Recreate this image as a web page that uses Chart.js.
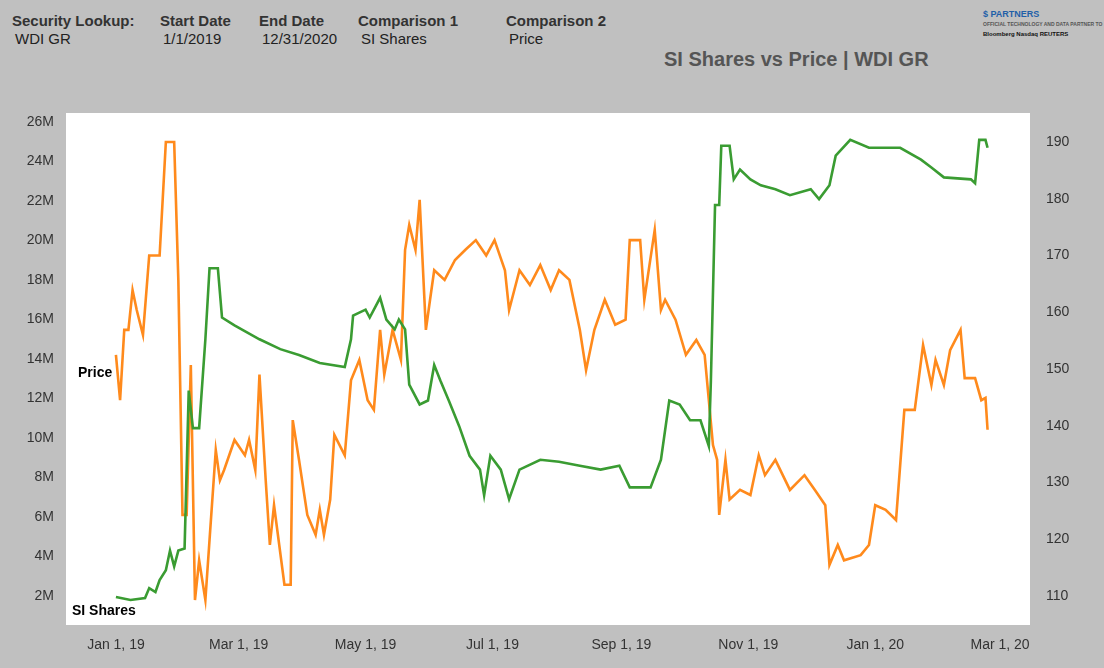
<!DOCTYPE html>
<html><head><meta charset="utf-8">
<script src="https://cdn.jsdelivr.net/npm/chart.js@4/dist/chart.umd.min.js"></script>
<style>
body{margin:0;background:#c0c0c0;font-family:"Liberation Sans",Arial,sans-serif;}
#wrap{position:relative;width:1104px;height:668px;overflow:hidden;}
.h{position:absolute;font-size:15px;color:#222;}
.b{font-weight:bold;color:#333;}
canvas{position:absolute;left:0;top:0;}
</style></head><body>
<div id="wrap">
<div class="h b" style="left:12px;top:12px">Security Lookup:</div>
<div class="h" style="left:15px;top:30px">WDI GR</div>
<div class="h b" style="left:160px;top:12px">Start Date</div>
<div class="h" style="left:163px;top:30px">1/1/2019</div>
<div class="h b" style="left:259px;top:12px">End Date</div>
<div class="h" style="left:262px;top:30px">12/31/2020</div>
<div class="h b" style="left:358px;top:12px">Comparison 1</div>
<div class="h" style="left:361px;top:30px">SI Shares</div>
<div class="h b" style="left:506px;top:12px">Comparison 2</div>
<div class="h" style="left:509px;top:30px">Price</div>
<div class="h" style="left:664px;top:48px;font-size:20px;font-weight:bold;color:#555">SI Shares vs Price | WDI GR</div>
<div class="h" style="left:983px;top:10px;font-size:9px;font-weight:bold;color:#1f5fa8;line-height:9px">$ PARTNERS<br><span style="font-size:5px;color:#555">OFFICIAL TECHNOLOGY AND DATA PARTNER TO</span><br><span style="font-size:6px;color:#111">Bloomberg Nasdaq REUTERS</span></div>
<canvas id="c" width="1104" height="668"></canvas>
<div class="h" style="left:78px;top:364px;font-weight:bold;color:#000;font-size:14px">Price</div>
<div class="h" style="left:72px;top:602px;font-weight:bold;color:#000;font-size:14px">SI Shares</div>
</div>
<script>
const tickDays=[0,59,120,181,243,304,365,425];
const tickLabels=["Jan 1, 19","Mar 1, 19","May 1, 19","Jul 1, 19","Sep 1, 19","Nov 1, 19","Jan 1, 20","Mar 1, 20"];
const siDays=[0,7,14,16,19,21,24,26,28,30,33,35,37,40,43,45,49,51,57,69,79,88,98,110,113,114,120,122,127,130,134,136,139,141,146,150,153,156,160,165,170,175,177,180,185,189,194,204,213,223,233,242,247,257,262,266,271,276,281,285,286,288,290,291,295,297,300,305,310,317,324,334,338,343,346,353,362,377,387,392,398,411,413,415,418,419];
const siShares=[1.95,1.8,1.9,2.4,2.2,2.8,3.3,4.3,3.5,4.3,4.4,12.4,10.5,10.5,15,18.6,18.6,16.1,15.7,15,14.5,14.2,13.8,13.6,15,16.2,16.5,16.1,17.1,16,15.5,16,15.5,12.7,11.7,11.9,13.7,12.9,11.9,10.6,9.1,8.4,7.1,9.1,8.4,6.9,8.4,8.9,8.8,8.6,8.4,8.6,7.5,7.5,8.9,11.9,11.7,10.9,10.9,9.6,12.9,21.8,21.8,24.8,24.8,23.1,23.6,23.1,22.8,22.6,22.3,22.6,22.1,22.8,24.3,25.1,24.7,24.7,24.1,23.7,23.2,23.1,22.9,25.1,25.1,24.7];
const pxDays=[0,2,4,6,8,10,13,16,21,24,28,30,32,34,36,38,40,43,45,48,50,52,57,62,64,67,69,72,74,76,81,84,85,88,92,96,98,100,103,105,110,113,117,121,124,127,129,133,137,139,141,144,146,149,151,153,158,163,168,173,178,182,187,189,194,199,204,209,213,218,223,226,230,235,240,245,247,252,254,259,262,264,269,274,279,283,287,289,290,293,295,300,305,309,312,317,324,331,336,341,343,347,350,358,362,365,370,375,379,384,388,392,394,398,401,406,408,413,416,418,419];
const price=[152.5,144.5,156.9,156.9,163.9,160.4,156,170,170,190,190,165.7,124.3,124.3,150.7,109.3,116.3,109.3,119.9,135.7,130.4,132.2,137.5,134.8,137.5,132.2,149,130.4,119,126,112,112,141,134,124.3,120.8,125.2,120.8,127,138.4,134.8,148,151.6,144.5,142.8,156.9,149,156.9,151.6,171,175.4,171,179.8,156.9,162.2,167.4,165.7,169.2,171,172.7,170,172.7,167.4,160.4,167.4,164.8,168.3,163.9,167.4,165.7,156.9,149.8,156.9,162.2,157.8,158.7,172.7,172.7,162.2,174.5,160.4,162.2,158.7,152.5,155.1,152.5,136.6,134,124.3,134,127,128.7,127.8,134.8,131.3,134,128.7,131.3,128.7,126,115.5,119,116.3,117.2,119,126,125.2,123.4,142.8,142.8,154.2,147.2,151.6,147.2,153.3,156.9,148.4,148.4,144.5,144.9,139.3];
const toXY=(d,v)=>d.map((x,i)=>({x:x,y:v[i]}));
const bg={id:'bg',beforeDraw(c){const a=c.chartArea,x=c.ctx;x.save();x.fillStyle='#fff';x.fillRect(a.left,a.top,a.right-a.left,a.bottom-a.top);x.restore();}};
const font={family:'"Liberation Sans",Arial,sans-serif',size:14};
new Chart(document.getElementById('c'),{type:'line',
data:{datasets:[
{data:toXY(siDays,siShares),yAxisID:'yL',borderColor:'#3a9c32',borderWidth:2.6,pointRadius:0,tension:0},
{data:toXY(pxDays,price),yAxisID:'yR',borderColor:'#ff8a1c',borderWidth:2.6,pointRadius:0,tension:0}]},
options:{responsive:false,animation:false,layout:{padding:{top:113}},
plugins:{legend:{display:false},tooltip:{enabled:false}},
scales:{
x:{type:'linear',min:-24,max:439.4,grid:{display:false,drawTicks:true},border:{display:false},
 afterBuildTicks(s){s.ticks=tickDays.map(v=>({value:v}));},
 afterFit(s){s.height=43;},
 ticks:{color:'#333',font,maxRotation:0,padding:4,callback:(v)=>tickLabels[tickDays.indexOf(v)]}},
yL:{position:'left',min:0.53,max:26.46,grid:{display:false},border:{display:false},
 afterBuildTicks(s){s.ticks=[2,4,6,8,10,12,14,16,18,20,22,24,26].map(v=>({value:v}));},
 afterFit(s){s.width=66;},
 ticks:{color:'#333',font,padding:4,callback:v=>v+'M'}},
yR:{position:'right',min:104.9,max:195.1,grid:{display:false},border:{display:false},
 afterBuildTicks(s){s.ticks=[110,120,130,140,150,160,170,180,190].map(v=>({value:v}));},
 afterFit(s){s.width=74;},
 ticks:{color:'#333',font,padding:8}}}},
plugins:[bg]});
</script></body></html>
